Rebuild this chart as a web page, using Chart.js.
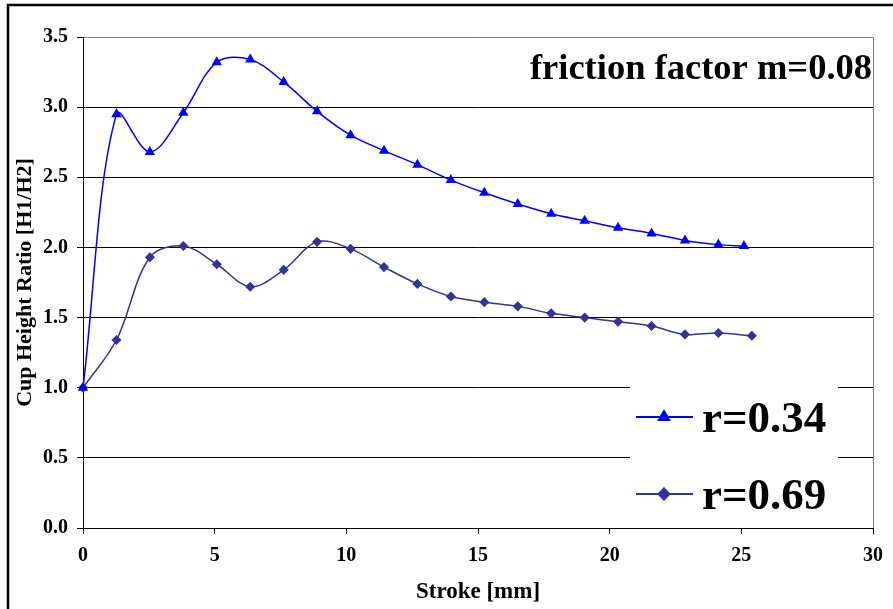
<!DOCTYPE html>
<html>
<head>
<meta charset="utf-8">
<script src="https://cdn.jsdelivr.net/npm/chart.js@4.4.0/dist/chart.umd.min.js"></script>
<style>
  html, body { margin: 0; padding: 0; background: #fff; }
  canvas { display: block; }
</style>
</head>
<body>
<canvas id="cup" width="893" height="609"></canvas>
<script>
// stroke [mm] and cup height ratio H1/H2 for each die radius
const strokeA = [0, 1.27, 2.54, 3.81, 5.08, 6.35, 7.62, 8.89, 10.16, 11.43, 12.70, 13.97, 15.24, 16.51, 17.78, 19.05, 20.32, 21.59, 22.86, 24.13, 25.1];
const ratioA  = [1.00, 2.95, 2.68, 2.96, 3.32, 3.34, 3.18, 2.97, 2.80, 2.69, 2.59, 2.48, 2.39, 2.31, 2.24, 2.19, 2.14, 2.10, 2.05, 2.02, 2.01];
const strokeB = [0, 1.27, 2.54, 3.81, 5.08, 6.35, 7.62, 8.89, 10.16, 11.43, 12.70, 13.97, 15.24, 16.51, 17.78, 19.05, 20.32, 21.59, 22.86, 24.13, 25.4];
const ratioB  = [1.00, 1.34, 1.93, 2.01, 1.88, 1.72, 1.84, 2.04, 1.99, 1.86, 1.74, 1.65, 1.61, 1.58, 1.53, 1.50, 1.47, 1.44, 1.38, 1.39, 1.37];
const seriesNames = ['r=0.34', 'r=0.69'];
const noteText = 'friction factor m=0.08';
const xRange = [0, 30, 5];     // min, max, step
const yRange = [0, 3.5, 0.5];

const SERIF = '"Liberation Serif", "Times New Roman", serif';
const pts = (xs, ys) => xs.map((x, i) => ({ x, y: ys[i] }));

// white page with the black frame along the left and top edges
const framePlugin = {
  id: 'frame',
  beforeDraw(chart) {
    const c = chart.ctx;
    c.save();
    c.fillStyle = '#fff';
    c.fillRect(0, 0, chart.width, chart.height);
    c.strokeStyle = '#000';
    c.lineWidth = 2.5;
    c.beginPath();
    c.moveTo(8, chart.height);
    c.lineTo(8, 5);
    c.lineTo(chart.width, 5);
    c.stroke();
    c.restore();
  }
};

// legend box inside the plot + friction note
const legendPlugin = {
  id: 'boxLegend',
  afterDatasetsDraw(chart) {
    const c = chart.ctx;
    c.save();
    c.fillStyle = '#fff';
    c.fillRect(630, 381, 208, 145);
    chart.data.datasets.forEach((ds, i) => {
      const y = 417 + i * 77;
      c.strokeStyle = ds.borderColor;
      c.lineWidth = 2;
      c.beginPath();
      c.moveTo(636, y);
      c.lineTo(693, y);
      c.stroke();
      c.fillStyle = ds.pointBackgroundColor;
      Chart.helpers.drawPoint(c, { pointStyle: ds.pointStyle, radius: ds.pointRadius + 1.5, rotation: 0, borderWidth: 1 }, 664, y);
      c.fillStyle = '#000';
      c.font = 'bold 45px ' + SERIF;
      c.textAlign = 'left';
      c.textBaseline = 'alphabetic';
      c.fillText(ds.label, 702, y + 15);
    });
    c.font = 'bold 36.5px ' + SERIF;
    c.textAlign = 'right';
    c.fillText(noteText, 872, 79);
    c.restore();
  }
};

new Chart(document.getElementById('cup'), {
  type: 'line',
  data: {
    datasets: [
      {
        label: seriesNames[0],
        data: pts(strokeA, ratioA),
        borderColor: '#0000ff',
        backgroundColor: '#0000ff',
        pointBackgroundColor: '#0000ff',
        pointBorderColor: '#0000ff',
        pointStyle: 'triangle',
        pointRadius: 4.5,
        borderWidth: 1.5,
        tension: 0.35,
        clip: false
      },
      {
        label: seriesNames[1],
        data: pts(strokeB, ratioB),
        borderColor: '#333399',
        backgroundColor: '#333399',
        pointBackgroundColor: '#333399',
        pointBorderColor: '#333399',
        pointStyle: 'rectRot',
        pointRadius: 4,
        borderWidth: 1.5,
        tension: 0.35,
        clip: false
      }
    ]
  },
  options: {
    responsive: false,
    animation: false,
    devicePixelRatio: 1,
    layout: { padding: { left: 10, top: 37, right: 18, bottom: 0 } },
    plugins: { legend: { display: false }, tooltip: { enabled: false } },
    scales: {
      x: {
        type: 'linear',
        min: xRange[0], max: xRange[1],
        afterFit(s) { s.height = 81; },
        ticks: { stepSize: xRange[2], color: '#000', padding: 10, font: { family: SERIF, size: 20, weight: 'bold' } },
        grid: {
          color: ctx => ctx.tick && ctx.tick.value === xRange[1] ? '#808080' : 'rgba(0,0,0,0)',
          tickColor: '#000', tickLength: 6, lineWidth: 1
        },
        border: { color: '#000', width: 1 },
        title: { display: true, text: 'Stroke [mm]', color: '#000', padding: { top: 0, bottom: 3 }, font: { family: SERIF, size: 23, weight: 'bold' } }
      },
      y: {
        min: yRange[0], max: yRange[1],
        afterFit(s) { s.width = 73; },
        ticks: { stepSize: yRange[2], color: '#000', padding: 9, callback: v => v.toFixed(1), font: { family: SERIF, size: 20, weight: 'bold' } },
        grid: {
          color: ctx => ctx.tick && ctx.tick.value === yRange[1] ? '#808080' : '#000',
          tickColor: '#000', tickLength: 6, lineWidth: 1
        },
        border: { color: '#000', width: 1 },
        title: { display: true, text: 'Cup Height Ratio [H1/H2]', color: '#000', padding: { top: 2, bottom: 0 }, font: { family: SERIF, size: 22, weight: 'bold' } }
      }
    }
  },
  plugins: [framePlugin, legendPlugin]
});
</script>
</body>
</html>
